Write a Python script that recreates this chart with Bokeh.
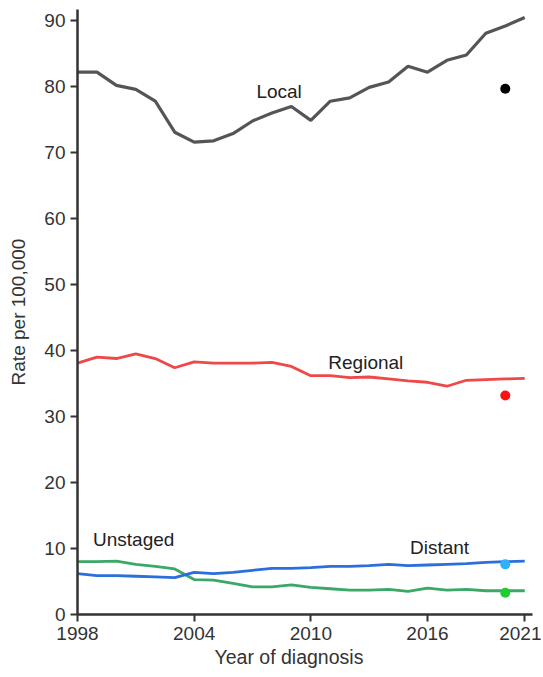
from bokeh.plotting import figure
from bokeh.models import Range1d, FixedTicker, Title
from bokeh.core.properties import value
from bokeh.embed import file_html
from bokeh.resources import INLINE

years = [1998, 1999, 2000, 2001, 2002, 2003, 2004, 2005, 2006, 2007, 2008, 2009,
         2010, 2011, 2012, 2013, 2014, 2015, 2016, 2017, 2018, 2019, 2020, 2021]

local = [82.2, 82.2, 80.2, 79.6, 77.8, 73.1, 71.6, 71.8, 72.9, 74.8, 76.0, 77.0,
         74.9, 77.8, 78.3, 79.9, 80.7, 83.1, 82.2, 84.0, 84.8, 88.1, 89.2, 90.5]
regional = [38.1, 39.0, 38.8, 39.5, 38.8, 37.4, 38.3, 38.1, 38.1, 38.1, 38.2, 37.6,
            36.2, 36.2, 35.9, 36.0, 35.7, 35.4, 35.2, 34.6, 35.5, 35.6, 35.7, 35.8]
distant = [6.2, 5.9, 5.9, 5.8, 5.7, 5.6, 6.4, 6.2, 6.4, 6.7, 7.0, 7.0,
           7.1, 7.3, 7.3, 7.4, 7.6, 7.4, 7.5, 7.6, 7.7, 7.9, 8.0, 8.1]
unstaged = [8.0, 8.0, 8.1, 7.6, 7.3, 6.9, 5.3, 5.2, 4.7, 4.2, 4.2, 4.5,
            4.1, 3.9, 3.7, 3.7, 3.8, 3.5, 4.0, 3.7, 3.8, 3.6, 3.6, 3.6]

obs_year = 2020
obs_values = [79.7, 33.2, 7.6, 3.3]  # local, regional, distant, unstaged

y_ticks = [0, 10, 20, 30, 40, 50, 60, 70, 80, 90]
x_ticks = [1998, 2004, 2010, 2016, 2021]

FONT = "Liberation Sans"
TXT = "#333333"

p = figure(width=541, height=675, output_backend="svg", toolbar_location=None,
           x_range=Range1d(1998, 2021.4), y_range=Range1d(0, 91.7),
           min_border_left=77, min_border_right=9, min_border_top=9, min_border_bottom=61)
p.outline_line_color = None
p.grid.visible = False
p.background_fill_color = "white"

for ax in (p.xaxis[0], p.yaxis[0]):
    ax.axis_line_color = "#333333"
    ax.axis_line_width = 2.5
    ax.major_tick_line_color = "#333333"
    ax.major_tick_line_width = 2
    ax.major_tick_out = 7
    ax.major_tick_in = 0
    ax.minor_tick_line_color = None
    ax.major_label_text_font = FONT
    ax.major_label_text_font_size = "19px"
    ax.major_label_text_color = TXT

p.xaxis.ticker = FixedTicker(ticks=x_ticks)
p.yaxis.ticker = FixedTicker(ticks=y_ticks)
p.xaxis.major_label_standoff = 5

p.yaxis.axis_label = "Rate per 100,000"
p.yaxis.axis_label_text_font = FONT
p.yaxis.axis_label_text_font_size = "19px"
p.yaxis.axis_label_text_font_style = "normal"
p.yaxis.axis_label_text_color = TXT
p.yaxis.axis_label_standoff = 12

p.line(years, local, line_color="#555555", line_width=3.2)
p.line(years, regional, line_color="#ef4848", line_width=2.8)
p.line(years, unstaged, line_color="#3aa866", line_width=2.8)
p.line(years, distant, line_color="#2b6fdc", line_width=2.8)

dot_colors = ["#000000", "#ff1010", "#30b0ff", "#20cc30"]
p.scatter([obs_year] * 4, obs_values, size=10, fill_color=dot_colors, line_color=None)

labels = ["Local", "Regional", "Unstaged", "Distant"]
label_x = [2007.2, 2010.9, 1998.8, 2015.1]
label_y = [79.2, 38.2, 11.4, 10.2]
p.text(label_x, label_y, text=labels, text_font=value(FONT), text_font_size="19px",
       text_color="#222222", text_align="left", text_baseline="middle")

p.add_layout(Title(text="Year of diagnosis", align="left", offset=137,
                   text_font=FONT, text_font_size="19.5px", text_font_style="normal",
                   text_color=TXT, standoff=3), "below")

open("out.html", "w").write(file_html(p, INLINE))
